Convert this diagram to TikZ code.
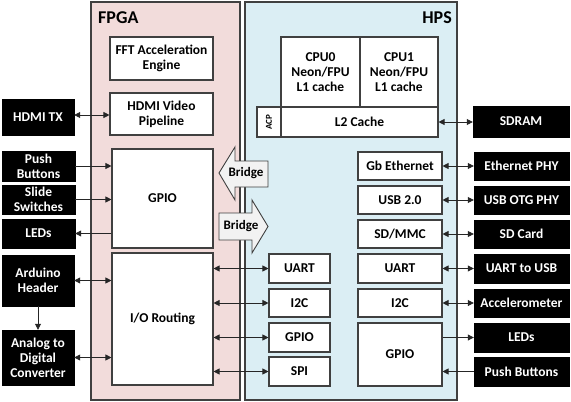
\documentclass[tikz,border=0pt]{standalone}
\usepackage{fontspec}
\setmainfont{Carlito}
\usetikzlibrary{arrows.meta}
\definecolor{fpgafill}{HTML}{F2DCDB}
\definecolor{hpsfill}{HTML}{DBEEF4}
\definecolor{edgegray}{HTML}{404040}
\definecolor{bridgefill}{HTML}{F2F2F2}
\begin{document}
\begin{tikzpicture}[x=1pt,y=-1pt,
  region/.style={draw=edgegray, line width=1.2pt, inner sep=0pt},
  wbox/.style={draw=edgegray, fill=white, line width=1.1pt, inner sep=0pt, align=center,
    font=\bfseries\fontsize{13.5}{15}\selectfont},
  bbox/.style={draw=black, fill=black, text=white, inner sep=0pt, align=center,
    font=\bfseries\fontsize{13.5}{15}\selectfont},
  sz/.style n args={2}{minimum width=#1pt, minimum height=#2pt},
  link/.style={draw=black!85, line width=0.8pt},
  both/.style={link, {Triangle[length=6pt,width=6pt]}-{Triangle[length=6pt,width=6pt]}},
  oneway/.style={link, -{Triangle[length=6pt,width=6pt]}},
  bridge/.style={draw=edgegray, fill=bridgefill, line width=0.9pt, line join=miter},
  title/.style={font=\bfseries\fontsize{18}{20}\selectfont, inner sep=0pt}
]
\useasboundingbox (0,0) rectangle (571,402);

% regions
\node[region, fill=fpgafill, sz={149}{398}] (fpga) at (165.5,201) {};
\node[region, fill=hpsfill, sz={212}{398}] (hps) at (351,201) {};
\node[title, anchor=west] (fpgalbl) at (98,18) {FPGA};
\node[title, anchor=east] (hpslbl) at (452,18) {HPS};

% FPGA blocks
\node[wbox, sz={103}{43}] (fft) at (161.5,58.5) {FFT Acceleration\\Engine};
\node[wbox, sz={103}{42}] (hdmi) at (161.5,114) {HDMI Video\\Pipeline};
\node[wbox, sz={101}{99}] (gpiof) at (162.5,198.5) {GPIO};
\node[wbox, sz={101}{132}] (io) at (162.5,319) {I/O Routing};

% left external
\node[bbox, sz={72}{36}] (hdmitx) at (38,117) {HDMI TX};
\node[bbox, sz={73}{30}] (pbl) at (38.5,166) {Push\\Buttons};
\node[bbox, sz={73}{29}] (ssw) at (38.5,199.5) {Slide\\Switches};
\node[bbox, sz={73}{29}] (ledl) at (38.5,233.5) {LEDs};
\node[bbox, sz={72}{51}] (ard) at (38,280.5) {Arduino\\Header};
\node[bbox, sz={72}{55}] (adc) at (38,357.5) {Analog to\\Digital\\Converter};

% HPS blocks
\node[wbox, sz={79}{70}] (cpu0) at (320.5,72) {CPU0\\Neon/FPU\\L1 cache};
\node[wbox, sz={78}{70}] (cpu1) at (399,72) {CPU1\\Neon/FPU\\L1 cache};
\node[wbox, sz={24}{30}] (acp) at (269,122) {};
\node[font=\bfseries\fontsize{9}{10}\selectfont, rotate=90, inner sep=0pt] (acplbl) at (acp.center) {ACP};
\node[wbox, sz={157}{30}] (l2) at (359.5,122) {L2 Cache};

\node[wbox, sz={61}{29}] (uartf) at (299.5,268.5) {UART};
\node[wbox, sz={61}{28}] (i2cf) at (299.5,303) {I2C};
\node[wbox, sz={61}{29}] (gpioh1) at (299.5,337.5) {GPIO};
\node[wbox, sz={61}{29}] (spi) at (299.5,371.5) {SPI};

\node[wbox, sz={84}{28}] (gbe) at (400,166) {Gb Ethernet};
\node[wbox, sz={84}{28}] (usb) at (400,200) {USB 2.0};
\node[wbox, sz={84}{28}] (sd) at (400,234) {SD/MMC};
\node[wbox, sz={84}{29}] (uarth) at (400,268.5) {UART};
\node[wbox, sz={84}{28}] (i2ch) at (400,303) {I2C};
\node[wbox, sz={84}{63}] (gpioh) at (400,354.5) {GPIO};

% right external
\node[bbox, sz={96}{31}] (sdram) at (521,121.5) {SDRAM};
\node[bbox, sz={95}{28}] (ethphy) at (521.5,166) {Ethernet PHY};
\node[bbox, sz={95}{28}] (otg) at (521.5,200) {USB OTG PHY};
\node[bbox, sz={95}{28}] (sdcard) at (521.5,234) {SD Card};
\node[bbox, sz={95}{29}] (u2usb) at (521.5,268.5) {UART to USB};
\node[bbox, sz={95}{28}] (accel) at (521.5,303) {Accelerometer};
\node[bbox, sz={95}{29}] (ledr) at (521.5,337.5) {LEDs};
\node[bbox, sz={95}{29}] (pbr) at (521.5,371.5) {Push Buttons};

% bridges
\draw[bridge] (219,173) -- (235,147) -- (235,161) -- (268,161) -- (268,187)
  -- (235,187) -- (235,200) -- cycle;
\node[font=\bfseries\fontsize{13}{14}\selectfont, inner sep=0pt] (bridgel) at (246,173) {Bridge};
\draw[bridge] (219,213) -- (252,213) -- (252,200) -- (268,226.5) -- (252,253)
  -- (252,240) -- (219,240) -- cycle;
\node[font=\bfseries\fontsize{13}{14}\selectfont, inner sep=0pt] (bridger) at (241,226.5) {Bridge};

% connectors left
\draw[both] (hdmitx.east |- 0,115) -- (hdmi.west |- 0,115);
\draw[oneway] (pbl.east) -- (pbl.east -| gpiof.west);
\draw[oneway] (ssw.east) -- (ssw.east -| gpiof.west);
\draw[oneway] (ledl.east -| gpiof.west) -- (ledl.east);
\draw[both] (ard.east) -- (ard.east -| io.west);
\draw[both] (adc.east) -- (adc.east -| io.west);
\draw[oneway] (ard.south) -- (adc.north);

% FPGA to HPS peripherals
\draw[both] (uartf.west -| io.east) -- (uartf.west);
\draw[both] (i2cf.west -| io.east) -- (i2cf.west);
\draw[both] (gpioh1.west -| io.east) -- (gpioh1.west);
\draw[both] (spi.west -| io.east) -- (spi.west);

% right connectors
\draw[both] (l2.east) -- (l2.east -| sdram.west);
\draw[both] (gbe.east) -- (ethphy.west);
\draw[both] (usb.east) -- (otg.west);
\draw[both] (sd.east) -- (sdcard.west);
\draw[both] (uarth.east) -- (u2usb.west);
\draw[both] (i2ch.east) -- (accel.west);
\draw[oneway] (ledr.west -| gpioh.east) -- (ledr.west);
\draw[oneway] (pbr.west) -- (pbr.west -| gpioh.east);
\end{tikzpicture}
\end{document}
